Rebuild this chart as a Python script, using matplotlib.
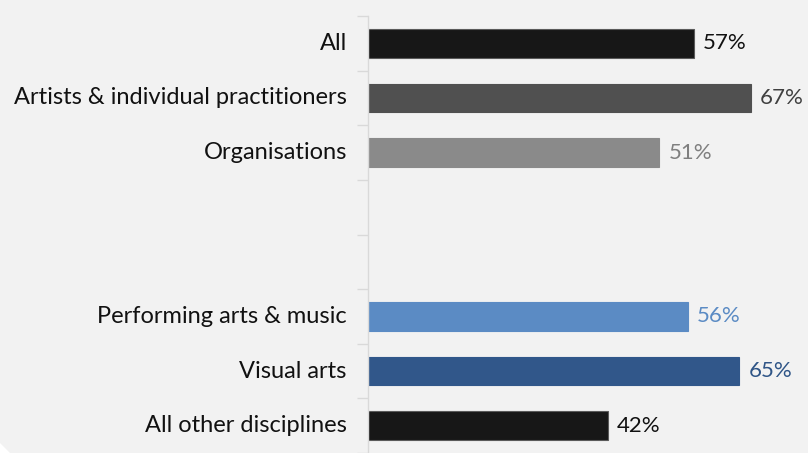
import matplotlib.pyplot as plt
import numpy as np

labels = ["All", "Artists & individual practitioners", "Organisations", "", "",
          "Performing arts & music", "Visual arts", "All other disciplines"]
values = [57, 67, 51, None, None, 56, 65, 42]
bar_colors = ["#171717", "#505050", "#8a8a8a", None, None, "#5b8bc4", "#31578a", "#171717"]
text_colors = ["#111111", "#404040", "#7f7f7f", None, None, "#5b8bc4", "#2f5587", "#111111"]

plt.rcParams['font.family'] = ['Lato', 'DejaVu Sans']

fig = plt.figure(figsize=(8.08, 4.53), dpi=100, facecolor="#f2f2f2")
ax = fig.add_axes([368/808, 0, 440/808, 437/453])
ax.set_facecolor("#f2f2f2")

n = len(labels)
y = np.arange(n)
for i in range(n):
    if values[i] is None:
        continue
    ax.barh(y[i], values[i], height=0.52, color=bar_colors[i],
            edgecolor="#5a5a5a" if bar_colors[i] == "#171717" else bar_colors[i],
            linewidth=0.8)
    ax.text(values[i] + 1.6, y[i], f"{values[i]}%", va="center", ha="left",
            fontsize=16, color=text_colors[i])
    ax.text(-3.7, y[i], labels[i], va="center", ha="right", fontsize=17,
            color="#111111")

ax.set_xlim(0, 77)
ax.set_ylim(n - 0.5, -0.5)
ax.set_xticks([])
ax.set_yticks([])
ax.set_yticks(np.arange(-0.5, n, 1.0), minor=True)
ax.tick_params(axis="y", which="minor", length=8, color="#d9d9d9", width=1)
for s in ["top", "right", "bottom"]:
    ax.spines[s].set_visible(False)
ax.spines["left"].set_color("#d9d9d9")
ax.spines["left"].set_linewidth(1)

# white rounded corner at bottom-left of the panel
fig.patches.append(plt.Polygon([[0, 0], [10/808, 0], [0, 10/453]], closed=True,
                               transform=fig.transFigure, facecolor="white",
                               edgecolor="none"))

fig.savefig("out.png", dpi=100, facecolor=fig.get_facecolor())
